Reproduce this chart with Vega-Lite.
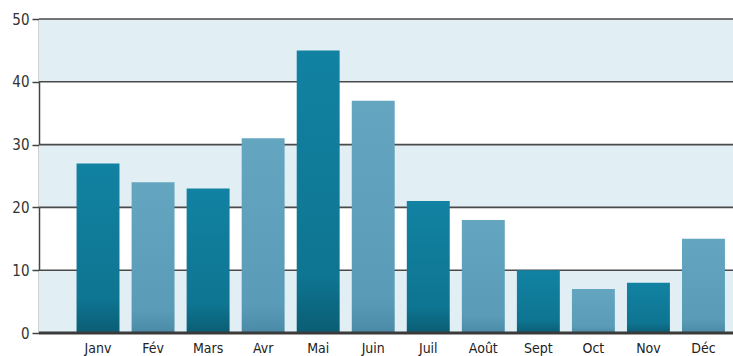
{
  "$schema": "https://vega.github.io/schema/vega-lite/v6.json",
  "width": 694,
  "height": 314,
  "autosize": "none",
  "padding": {"left": 39, "top": 19, "right": 0, "bottom": 23},
  "config": {
    "view": {"stroke": null},
    "font": "Liberation Sans Narrow, DejaVu Sans Condensed, sans-serif"
  },
  "datasets": {
    "months": [
      {"mois": "Janv", "valeur": 27, "ton": "fonce"},
      {"mois": "Fév", "valeur": 24, "ton": "clair"},
      {"mois": "Mars", "valeur": 23, "ton": "fonce"},
      {"mois": "Avr", "valeur": 31, "ton": "clair"},
      {"mois": "Mai", "valeur": 45, "ton": "fonce"},
      {"mois": "Juin", "valeur": 37, "ton": "clair"},
      {"mois": "Juil", "valeur": 21, "ton": "fonce"},
      {"mois": "Août", "valeur": 18, "ton": "clair"},
      {"mois": "Sept", "valeur": 10, "ton": "fonce"},
      {"mois": "Oct", "valeur": 7, "ton": "clair"},
      {"mois": "Nov", "valeur": 8, "ton": "fonce"},
      {"mois": "Déc", "valeur": 15, "ton": "clair"}
    ],
    "bands": [
      {"bas": 0, "haut": 10},
      {"bas": 20, "haut": 30},
      {"bas": 40, "haut": 50}
    ],
    "grid": [
      {"g": 10}, {"g": 20}, {"g": 30}, {"g": 40}, {"g": 50}
    ],
    "base": [
      {"g": 0}
    ]
  },
  "layer": [
    {
      "data": {"name": "bands"},
      "mark": {"type": "rect", "color": "#e1eff5"},
      "encoding": {
        "y": {
          "field": "bas", "type": "quantitative", "stack": null,
          "scale": {"domain": [0, 50], "nice": false},
          "axis": {
            "title": null, "grid": false, "values": [0, 10, 20, 30, 40, 50],
            "labelFontSize": 15, "labelColor": "#333", "labelPadding": 3,
            "tickColor": "#444", "tickSize": 7, "tickWidth": 1.5,
            "domainColor": "#444", "domainWidth": 1.5
          }
        },
        "y2": {"field": "haut"}
      }
    },
    {
      "data": {"name": "grid"},
      "mark": {"type": "rule", "color": "#4a4a4a", "strokeWidth": 1.6},
      "encoding": {
        "y": {"field": "g", "type": "quantitative"}
      }
    },
    {
      "data": {"name": "months"},
      "transform": [{"filter": "datum.ton === 'fonce'"}],
      "mark": {
        "type": "bar",
        "color": {
          "gradient": "linear",
          "x1": 0, "y1": 0, "x2": 0, "y2": 1,
          "stops": [
            {"offset": 0, "color": "#1282a2"},
            {"offset": 0.8, "color": "#0e7592"},
            {"offset": 1, "color": "#0b5d73"}
          ]
        }
      },
      "encoding": {
        "x": {
          "field": "mois", "type": "nominal",
          "scale": {
            "domain": ["Janv", "Fév", "Mars", "Avr", "Mai", "Juin", "Juil", "Août", "Sept", "Oct", "Nov", "Déc"],
            "range": [31.5, 692], "paddingInner": 0.22, "paddingOuter": 0.11
          },
          "axis": {
            "title": null, "labelAngle": 0, "ticks": false, "domain": false,
            "labelFontSize": 14, "labelColor": "#222", "labelPadding": 8
          }
        },
        "y": {"field": "valeur", "type": "quantitative"}
      }
    },
    {
      "data": {"name": "months"},
      "transform": [{"filter": "datum.ton === 'clair'"}],
      "mark": {
        "type": "bar",
        "color": {
          "gradient": "linear",
          "x1": 0, "y1": 0, "x2": 0, "y2": 1,
          "stops": [
            {"offset": 0, "color": "#64a5c0"},
            {"offset": 0.85, "color": "#5a9cb8"},
            {"offset": 1, "color": "#4a8aa6"}
          ]
        }
      },
      "encoding": {
        "x": {"field": "mois", "type": "nominal"},
        "y": {"field": "valeur", "type": "quantitative"}
      }
    },
    {
      "data": {"name": "base"},
      "mark": {"type": "rule", "color": "#3a3a3a", "strokeWidth": 3},
      "encoding": {
        "y": {"field": "g", "type": "quantitative"}
      }
    }
  ]
}
